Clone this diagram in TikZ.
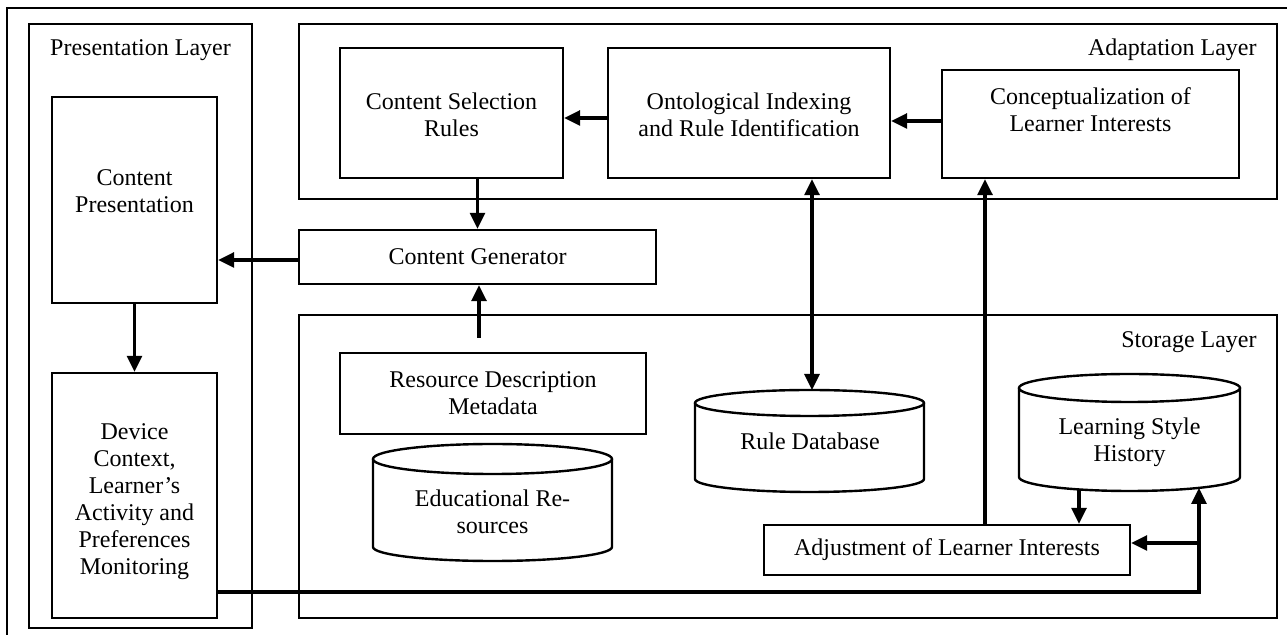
\documentclass[tikz,border=0pt]{standalone}
\usepackage{fontspec}
\setmainfont{Liberation Serif}
\usetikzlibrary{arrows.meta}
\begin{document}
\begin{tikzpicture}[x=0.5pt,y=-0.5pt,
  box/.style={draw, line width=1.2pt, rectangle, inner sep=0pt},
  txt/.style={font=\fontsize{12}{13.5}\selectfont, align=center, inner sep=0pt},
  arr/.style={line width=1.6pt, -{Triangle[length=8pt,width=7.5pt]}},
  darr/.style={line width=1.6pt, {Triangle[length=8pt,width=7.5pt]}-{Triangle[length=8pt,width=7.5pt]}},
  cyl/.style={line width=1.2pt}]
\useasboundingbox (0,0) rectangle (1287,635);
% outer frame
\draw[line width=1.2pt] (1287,8) -- (7,8) -- (7,635);
% layers
\node[box, minimum width=111.5pt, minimum height=302pt] (presL) at (140.5,326) {};
\node[txt] (presLt) at (140.5,50) {Presentation Layer};
\node[box, minimum width=489pt, minimum height=87.5pt] (adaptL) at (788,111.5) {};
\node[txt, anchor=east] (adaptLt) at (1257,50) {Adaptation Layer};
\node[box, minimum width=489pt, minimum height=151.5pt] (storL) at (788,466.5) {};
\node[txt, anchor=east] (storLt) at (1257,342) {Storage Layer};
% presentation boxes
\node[box, minimum width=82.5pt, minimum height=103pt] (cp) at (134.5,200) {};
\node[txt] (cpt) at (134.5,191) {Content\\Presentation};
\node[box, minimum width=82.5pt, minimum height=122.5pt] (dev) at (134.5,495.5) {};
\node[txt] (devt) at (134.5,502) {Device\\Context,\\Learner’s\\Activity and\\Preferences\\Monitoring};
% adaptation boxes
\node[box, minimum width=111.5pt, minimum height=65pt] (csr) at (451.5,113) {};
\node[txt] (csrt) at (451.5,115) {Content Selection\\Rules};
\node[box, minimum width=141pt, minimum height=65pt] (onto) at (749,113) {};
\node[txt] (ontot) at (749,115) {Ontological Indexing\\and Rule Identification};
\node[box, minimum width=148.5pt, minimum height=54pt] (conc) at (1090.5,124) {};
\node[txt] (conct) at (1090.5,110) {Conceptualization of\\Learner Interests};
% content generator
\node[box, minimum width=178.5pt, minimum height=27pt] (cg) at (477.5,257) {};
\node[txt] (cgt) at (477.5,257) {Content Generator};
% storage boxes
\node[box, minimum width=153pt, minimum height=40.5pt] (rdm) at (493,393.5) {};
\node[txt] (rdmt) at (493,393.5) {Resource Description\\Metadata};
\node[box, minimum width=183pt, minimum height=25pt] (adj) at (947,550) {};
\node[txt] (adjt) at (947,550) {Adjustment of Learner Interests};
% cylinders
\draw[cyl] (373,459) -- (373,547) arc[start angle=180,end angle=360,x radius=59.75pt,y radius=7pt] -- (612,459);
\draw[cyl] (492.5,459) ellipse[x radius=59.75pt, y radius=7.5pt];
\node[txt] (edut) at (492.5,512) {Educational Re-\\sources};
\draw[cyl] (695,403) -- (695,479) arc[start angle=180,end angle=360,x radius=57.25pt,y radius=6.5pt] -- (924,403);
\draw[cyl] (809.5,403) ellipse[x radius=57.25pt, y radius=6.5pt];
\node[txt] (rdbt) at (810,441) {Rule Database};
\draw[cyl] (1019,388) -- (1019,477) arc[start angle=180,end angle=360,x radius=55.25pt,y radius=7pt] -- (1240,388);
\draw[cyl] (1129.5,388) ellipse[x radius=55.25pt, y radius=7pt];
\node[txt] (lsht) at (1129.5,442) {Learning Style\\History};
% coordinates
\coordinate (rdbtop) at (812,390);
\coordinate (cgin) at (479,338);
\coordinate (lshbot) at (1199,488);
\coordinate (lshout) at (1079,489);
\coordinate (br) at (1199,543);
% connectors
\draw[arr] ([yshift=-2.5pt]onto.west) -- ([yshift=-2.5pt]onto.west -| csr.east);
\draw[arr] ([yshift=1.5pt]conc.west) -- ([yshift=1.5pt]conc.west -| onto.east);
\draw[arr] (csr.south -| cg.north) -- (cg.north);
\draw[arr] (cgin) -- (cg.south -| cgin);
\draw[arr] ([yshift=-1.5pt]cg.west) -- ([yshift=-1.5pt]cg.west -| cp.east);
\draw[arr] (cp.south) -- (dev.north);
\draw[darr] (rdbtop |- onto.south) -- (rdbtop);
\draw[arr] ([xshift=19pt]adj.north) -- ([xshift=19pt]adj.north |- conc.south);
\draw[arr] (lshout) -- (lshout |- adj.north);
\draw[arr] (dev.east |- 0,592) -- (lshbot |- 0,592) -- (lshbot);
\draw[arr] (br) -- (br -| adj.east);
\end{tikzpicture}
\end{document}
